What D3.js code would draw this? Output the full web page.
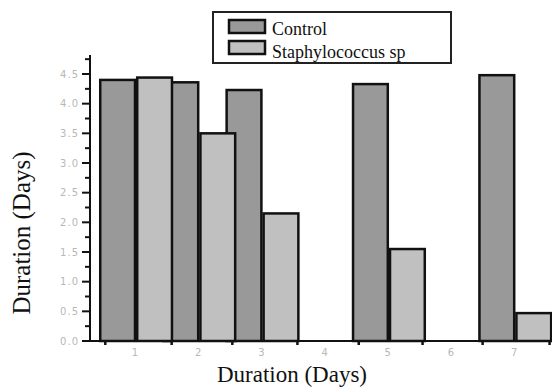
<!DOCTYPE html>
<html><head><meta charset="utf-8">
<script src="https://cdn.jsdelivr.net/npm/d3@7"></script>
<style>body{margin:0;background:#fff}svg{display:block}</style>
</head><body>
<svg id="c" width="552" height="387"></svg>
<script>
const days = [1, 2, 3, 5, 7];
const control = [4.40, 4.36, 4.23, 4.33, 4.48];
const staph = [4.44, 3.50, 2.15, 1.55, 0.47];
const seriesNames = ["Control", "Staphylococcus sp"];
const seriesColors = ["#999999", "#c0c0c0"];
const xTickLabels = [1, 2, 3, 4, 5, 6, 7];
const xTickMarks = [0.53, 1.58, 2.54, 3.57, 4.54, 5.55, 6.5, 7.56];
const yMajor = [0, 0.5, 1, 1.5, 2, 2.5, 3, 3.5, 4, 4.5];
const yMinor = [0.25, 0.75, 1.25, 1.75, 2.25, 2.75, 3.25, 3.75, 4.25, 4.75];

const svg = d3.select("#c");
const x = d3.scaleLinear().domain([1, 7]).range([135, 514.2]);
const y = d3.scaleLinear().domain([0, 4.5]).range([341, 74]);
const axisX0 = 90, axisY0 = 341;
const barW = 0.55;

const serif = "Liberation Serif, Times New Roman, serif";
const tickFont = "DejaVu Sans, sans-serif";

// bars
const ctrlData = days.map((d, i) => ({d, v: control[i]}));
const stData = days.map((d, i) => ({d, v: staph[i]}));
svg.append("g").selectAll("rect").data(ctrlData).join("rect")
  .attr("x", p => x(p.d - barW)).attr("width", p => x(p.d) - x(p.d - barW))
  .attr("y", p => y(p.v)).attr("height", p => y(0) - y(p.v))
  .attr("fill", seriesColors[0]).attr("stroke", "#111").attr("stroke-width", 2.5);
svg.append("g").selectAll("rect").data(stData).join("rect")
  .attr("x", p => x(p.d + 0.035)).attr("width", p => x(p.d + 0.035 + barW) - x(p.d + 0.035))
  .attr("y", p => y(p.v)).attr("height", p => y(0) - y(p.v))
  .attr("fill", seriesColors[1]).attr("stroke", "#111").attr("stroke-width", 2.5);

// y axis
const gy = svg.append("g");
gy.append("line").attr("x1", axisX0).attr("x2", axisX0).attr("y1", 55).attr("y2", axisY0 + 1)
  .attr("stroke", "#111").attr("stroke-width", 2);
gy.selectAll(".maj").data(yMajor).join("line")
  .attr("x1", axisX0 - 8).attr("x2", axisX0).attr("y1", d => y(d)).attr("y2", d => y(d))
  .attr("stroke", "#111").attr("stroke-width", 2);
gy.selectAll(".min").data(yMinor).join("line")
  .attr("x1", axisX0 - 5).attr("x2", axisX0).attr("y1", d => y(d)).attr("y2", d => y(d))
  .attr("stroke", "#111").attr("stroke-width", 2);
gy.selectAll("text").data(yMajor).join("text")
  .attr("x", 79).attr("y", d => y(d) + 3.5).attr("text-anchor", "end")
  .attr("font-family", tickFont).attr("font-size", 10).attr("letter-spacing", 1)
  .attr("fill", "#b8b8b8").text(d => d.toFixed(1));

// x axis
const gx = svg.append("g");
gx.append("line").attr("x1", axisX0 - 1).attr("x2", 552).attr("y1", axisY0).attr("y2", axisY0)
  .attr("stroke", "#111").attr("stroke-width", 2);
gx.selectAll(".tk").data(xTickMarks).join("line")
  .attr("x1", d => x(d)).attr("x2", d => x(d)).attr("y1", axisY0).attr("y2", axisY0 + 4)
  .attr("stroke", "#111").attr("stroke-width", 2.5);
gx.selectAll("text").data(xTickLabels).join("text")
  .attr("x", d => x(d)).attr("y", 356).attr("text-anchor", "middle")
  .attr("font-family", tickFont).attr("font-size", 10)
  .attr("fill", "#b8b8b8").text(d => d);

// axis titles
svg.append("text").attr("x", 292).attr("y", 382).attr("text-anchor", "middle")
  .attr("font-family", serif).attr("font-size", 23).attr("fill", "#111").text("Duration (Days)");
svg.append("text").attr("transform", "translate(30,233) rotate(-90)").attr("text-anchor", "middle")
  .attr("font-family", serif).attr("font-size", 25).attr("fill", "#111").text("Duration (Days)");

// legend
const lg = svg.append("g");
lg.append("rect").attr("x", 213).attr("y", 12).attr("width", 238).attr("height", 51)
  .attr("fill", "#fff").attr("stroke", "#222").attr("stroke-width", 2);
seriesNames.forEach((n, i) => {
  lg.append("rect").attr("x", 229).attr("y", 20 + i * 21).attr("width", 36).attr("height", 13)
    .attr("fill", seriesColors[i]).attr("stroke", "#111").attr("stroke-width", 2.5);
  lg.append("text").attr("x", 272).attr("y", 35 + i * 23)
    .attr("font-family", serif).attr("font-size", 18).attr("fill", "#111").text(n);
});
</script>
</body></html>
